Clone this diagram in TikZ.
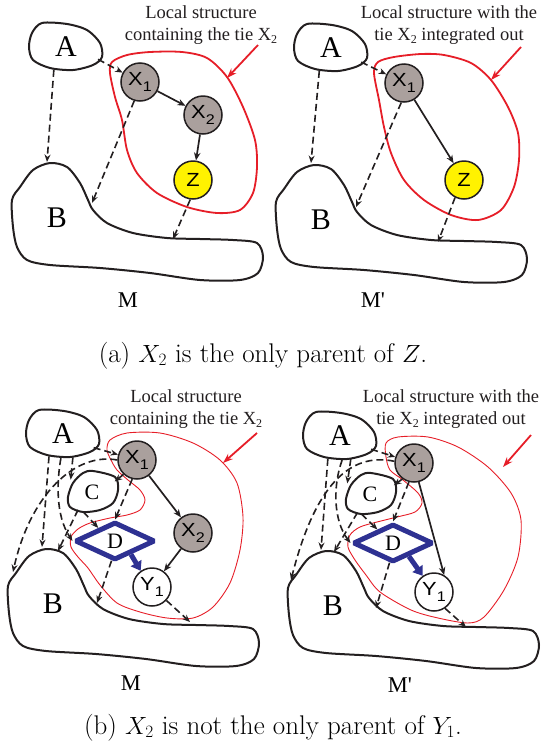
\documentclass[tikz,border=0pt]{standalone}
\usepackage{fontspec}
\usetikzlibrary{shapes.geometric,arrows.meta}
\newfontfamily\serifA{Liberation Serif}
\newfontfamily\sansA[FakeStretch=1.15]{Liberation Sans}
\definecolor{ink}{RGB}{35,31,32}
\definecolor{tiegray}{RGB}{170,160,157}
\definecolor{zyellow}{RGB}{255,242,0}
\definecolor{regred}{RGB}{230,30,40}
\definecolor{dblue}{RGB}{46,49,146}
\newcommand{\vsub}[1]{\raisebox{-5.5pt}{\fontsize{14}{14}\selectfont #1}}
\newcommand{\tsub}[1]{\raisebox{-3.3pt}{\fontsize{12}{12}\selectfont #1}}
\newcommand{\blobA}[1]{\draw[blob, shift={(#1)}] plot[smooth cycle] coordinates {(-24,-24) (1,-23) (21,-17) (34,-4) (36,10) (27,18) (7,23) (-16,21) (-33,13) (-37,0) (-34,-14)};}
\newcommand{\blobB}[1]{\draw[blob, shift={(#1)}] plot[smooth cycle] coordinates {(-45,-18) (-37,-31) (-24,-48) (-7,-55) (10,-51) (23,-35) (31,-18) (36,-8) (50,5) (76,15) (110,20) (143,21) (176,22) (200,25) (206,39) (201,55) (183,62) (143,62) (93,55) (43,50) (-7,47) (-30,42) (-40,29) (-44,9)};}
\newcommand{\blobC}[1]{\draw[blob, shift={(#1)}] plot[smooth cycle] coordinates {(1,-21) (23,-15) (26,-2) (21,11) (8,18) (-9,20) (-22,15) (-24,5) (-19,-9) (-9,-19)};}
\tikzset{
  blob/.style={draw=ink, line width=2},
  region/.style={draw=regred, line width=1.8},
  thinregion/.style={draw=regred, line width=0.9},
  dep/.style={draw=ink, line width=1.6, dash pattern=on 7pt off 4pt, -{Stealth[length=7.5pt,width=6pt]}},
  link/.style={draw=ink, line width=1.7, -{Stealth[length=8pt,width=6.5pt]}},
  pointer/.style={draw=regred, line width=1.8, -{Stealth[length=10pt,width=7pt]}},
  tiearrow/.style={draw=dblue, line width=5, -{Triangle[length=9pt,width=12pt]}},
  var/.style={circle, draw=ink, line width=1.5, minimum size=38, inner sep=0, fill=tiegray, font=\sansA\fontsize{19}{19}\selectfont},
  bigname/.style={ellipse, inner sep=0, minimum width=74, minimum height=48, font=\serifA\fontsize{30}{30}\selectfont},
  bname/.style={inner sep=0, font=\serifA\fontsize{30}{30}\selectfont},
  cname/.style={ellipse, inner sep=0, minimum width=52, minimum height=42, font=\serifA\fontsize{22}{22}\selectfont},
  dnode/.style={diamond, draw=dblue, line width=5, line join=bevel, inner sep=0, aspect=2, minimum width=80, minimum height=38, font=\serifA\fontsize{22}{22}\selectfont},
  mname/.style={inner sep=0, font=\serifA\fontsize{22.5}{22.5}\selectfont},
  note/.style={anchor=north, inner sep=0, align=center, text=ink, font=\serifA\fontsize{18.5}{22}\selectfont},
  capt/.style={anchor=base, inner sep=0, font=\fontsize{27}{31}\selectfont}
}

\begin{document}
\begin{tikzpicture}[x=1pt, y=-1pt]
    \useasboundingbox (0,0) rectangle (542,753);
    % (a), left
    \node[bigname] (A1) at (66,47) {A};
    \blobA{A1}
    \node[bname] (B1) at (57,218) {B};
    \blobB{B1}
    \node[var] (X1a) at (140,82) {X\vsub{1}};
    \node[var] (X2a) at (203,115) {X\vsub{2}};
    \node[var, fill=zyellow] (Za) at (193,180) {Z};
    \draw[region] plot[smooth cycle] coordinates {(182,52) (207,58) (227,77) (243,107) (255,140) (257,167) (253,193) (240,210) (217,213) (187,207) (157,193) (137,173) (127,150) (122,120) (115,97) (110,73) (112,62) (127,55) (150,52)};
    \coordinate (Ba1) at (47,162);
    \coordinate (Ba2) at (92,203);
    \coordinate (Ba3) at (173,239);
    \draw[dep] (A1.-21) -- (X1a);
    \draw[dep] (A1.-118) -- (Ba1);
    \draw[dep] (X1a.-107) -- (Ba2);
    \draw[dep] (Za.-98) -- (Ba3);
    \draw[link] (X1a) -- (X2a);
    \draw[link] (X2a) -- (Za);
    \node[note] (La) at (201,5) {Local structure\\containing the tie X\tsub{2}};
    \coordinate (Pa1) at (258,45);
    \coordinate (Pa2) at (227,78);
    \draw[pointer] (Pa1) -- (Pa2);
    \node[mname] (Ma) at (128,300) {M};
    % (a), right
    \node[bigname] (A2) at (331,48) {A};
    \blobA{A2}
    \node[bname] (B2) at (321,220) {B};
    \blobB{B2}
    \node[var] (X1b) at (404,83) {X\vsub{1}};
    \node[var, fill=zyellow] (Zb) at (464,180) {Z};
    \draw[region] plot[smooth cycle] coordinates {(444,55) (471,63) (491,80) (508,107) (518,133) (519,160) (514,187) (501,210) (478,220) (451,215) (424,200) (404,180) (391,153) (384,127) (379,100) (374,73) (378,62) (394,57) (421,54)};
    \coordinate (Bb1) at (311,163);
    \coordinate (Bb2) at (356,207);
    \coordinate (Bb3) at (438,242);
    \draw[dep] (A2.-25) -- (X1b);
    \draw[dep] (A2.-117) -- (Bb1);
    \draw[dep] (X1b.-98) -- (Bb2);
    \draw[dep] (Zb.-117) -- (Bb3);
    \draw[link] (X1b) -- (Zb);
    \node[note] (Lb) at (449,5) {Local structure with the\\tie X\tsub{2} integrated out};
    \coordinate (Pb1) at (521,47);
    \coordinate (Pb2) at (491,80);
    \draw[pointer] (Pb1) -- (Pb2);
    \node[mname] (Mb) at (373,300) {M'};
    \node[capt] (Ca) at (263,362) {(a) $X_2$ is the only parent of $Z$.};
    % (b), left
    \node[bigname] (A3) at (63,434) {A};
    \blobA{A3}
    \node[bname] (B3) at (53,604) {B};
    \blobB{B3}
    \node[cname] (C3) at (92,492) {C};
    \blobC{C3}
    \node[dnode] (D3) at (115,541) {D};
    \node[var] (X1c) at (137,460) {X\vsub{1}};
    \node[var] (X2c) at (193,533) {X\vsub{2}};
    \node[var, fill=white] (Y1c) at (152,587) {Y\vsub{1}};
    \draw[thinregion] plot[smooth cycle, tension=0.5] coordinates {(110,440) (127,433) (160,433) (193,443) (220,460) (237,483) (243,517) (240,550) (230,583) (213,607) (193,618) (167,618) (140,612) (117,603) (100,585) (88,568) (78,557) (71,547) (71,537) (78,529) (90,523) (110,518) (127,515) (140,510) (145,500) (140,490) (128,480) (117,470) (111,460) (107,450)};
    \coordinate (Bc1) at (42,547);
    \coordinate (Bc2) at (13,572);
    \coordinate (Bc3) at (58,551);
    \coordinate (Bc4) at (97,603);
    \coordinate (Bc5) at (190,622);
    \draw[dep] (A3.-24) -- (X1c);
    \draw[dep] (A3.-67) -- (C3.150);
    \draw[dep] (A3.-122) -- (Bc1);
    \draw[dep] (A3.-95) .. controls (57,480) and (55,515) .. (D3.west);
    \draw[dep] (X1c.180) .. controls (75,452) and (30,495) .. (Bc2);
    \draw[dep] (X1c.-133) -- (C3.25);
    \draw[dep] (X1c.-104) -- (D3.north);
    \draw[dep] (C3.-113) -- (D3.142);
    \draw[dep] (C3.-128) -- (Bc3);
    \draw[dep] (D3.-100) -- (Bc4);
    \draw[dep] (Y1c.-43) -- (Bc5);
    \draw[link] (X1c) -- (X2c);
    \draw[link] (X2c) -- (Y1c);
    \draw[tiearrow] (D3.-40) -- (Y1c.125);
    \node[note] (Lc) at (186,389) {Local structure\\containing the tie X\tsub{2}};
    \coordinate (Pc1) at (257,433);
    \coordinate (Pc2) at (223,463);
    \draw[pointer] (Pc1) -- (Pc2);
    \node[mname] (Mc) at (131,683) {M};
    % (b), right
    \node[bigname] (A4) at (340,436) {A};
    \blobA{A4}
    \node[bname] (B4) at (333,606) {B};
    \blobB{B4}
    \node[cname] (C4) at (370,494) {C};
    \blobC{C4}
    \node[dnode] (D4) at (393,543) {D};
    \node[var] (X1d) at (414,463) {X\vsub{1}};
    \node[var, fill=white] (Y1d) at (434,592) {Y\vsub{1}};
    \draw[thinregion] plot[smooth cycle, tension=0.5] coordinates {(398,437) (428,437) (458,447) (488,467) (511,493) (521,520) (518,557) (504,590) (484,617) (468,623) (438,618) (411,610) (380,592) (366,575) (355,560) (348,547) (350,535) (360,527) (377,522) (397,517) (415,512) (422,503) (418,493) (403,480) (390,470) (386,457) (386,443)};
    \coordinate (Bd1) at (321,550);
    \coordinate (Bd2) at (291,580);
    \coordinate (Bd3) at (334,552);
    \coordinate (Bd4) at (376,608);
    \coordinate (Bd5) at (466,627);
    \draw[dep] (A4.-23) -- (X1d);
    \draw[dep] (A4.-65) -- (C4.155);
    \draw[dep] (A4.-118) -- (Bd1);
    \draw[dep] (A4.-85) .. controls (333,485) and (333,520) .. (D4.west);
    \draw[dep] (X1d.175) .. controls (350,452) and (315,485) .. (Bd2);
    \draw[dep] (X1d.-126) -- (C4.20);
    \draw[dep] (X1d.-105) -- (D4.north);
    \draw[dep] (C4.-113) -- (D4.139);
    \draw[dep] (C4.-124) -- (Bd3);
    \draw[dep] (D4.-100) -- (Bd4);
    \draw[dep] (Y1d.-56) -- (Bd5);
    \draw[link] (X1d.-76) -- (Y1d.59);
    \draw[tiearrow] (D4.-40) -- (Y1d.125);
    \node[note] (Ld) at (451,389) {Local structure with the\\tie X\tsub{2} integrated out};
    \coordinate (Pd1) at (531,435);
    \coordinate (Pd2) at (503,467);
    \draw[pointer] (Pd1) -- (Pd2);
    \node[mname] (Md) at (400,685) {M'};
    \node[capt] (Cb) at (273,734) {(b) $X_2$ is not the only parent of $Y_1$.};
\end{tikzpicture}
\end{document}
